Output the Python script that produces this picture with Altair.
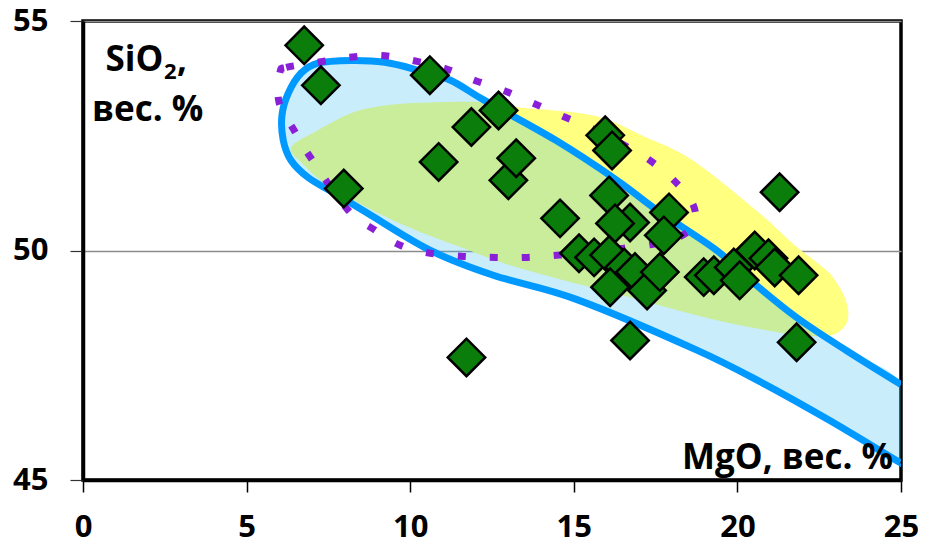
import altair as alt
import pandas as pd

# ---- data ----
mgo = [6.76, 7.27, 7.97, 10.60, 10.87, 11.87, 12.70, 11.72, 13.00, 13.24, 14.58,
       15.96, 16.17, 16.08, 16.72, 16.26, 17.91, 17.75, 15.16, 15.62, 16.08, 16.54,
       16.11, 16.87, 17.24, 17.63, 18.97, 19.28, 19.89, 20.07, 20.53, 20.95, 21.14,
       21.87, 21.29, 21.81, 16.72]
sio2 = [54.47, 53.60, 51.35, 53.82, 51.93, 52.69, 53.05, 47.67, 51.53, 52.01, 50.70,
        52.51, 52.18, 51.20, 50.61, 50.59, 50.83, 50.33, 49.94, 49.85, 49.90, 49.63,
        49.20, 49.53, 49.13, 49.53, 49.42, 49.46, 49.63, 49.35, 50.00, 49.83, 49.63,
        49.46, 51.27, 48.00, 48.04]

# blue field outline (upper branch from right, around the nose, lower branch to right)
blue_x = [25.0, 23.33, 21.81, 20.5, 19.37, 17.54, 16.32, 14.45, 12.27, 11.23, 10.23,
          9.22, 8.19, 7.18, 6.66, 6.27, 6.08, 6.12, 6.36, 6.88, 7.70, 8.70, 10.62,
          12.54, 15.10, 18.76, 20.8, 22.81, 24.85, 25.0]
blue_y = [47.08, 47.82, 48.54, 49.29, 50.0, 50.88, 51.53, 52.4, 53.27, 53.71, 53.93,
          54.10, 54.14, 54.08, 53.86, 53.42, 52.94, 52.40, 51.96, 51.59, 51.24, 50.81,
          50.0, 49.46, 48.93, 47.83, 47.1, 46.3, 45.43, 45.38]

# yellow field (closed)
yellow_x = [6.36, 7.18, 8.19, 9.22, 10.75, 12.27, 13.28, 15.6, 17.1, 18.64, 20.68,
            21.68, 22.72, 23.03, 23.27, 23.39, 23.3, 22.96, 22.41, 21.68, 19.37, 16.32,
            13.28, 11.55, 9.62, 7.58, 6.7]
yellow_y = [52.25, 52.62, 52.99, 53.16, 53.23, 53.23, 53.12, 52.94, 52.5, 51.96, 50.81,
            50.16, 49.57, 49.3, 49.0, 48.65, 48.37, 48.17, 48.13, 48.17, 48.48, 49.05,
            49.63, 50.07, 50.61, 51.37, 51.9]

# dotted violet contour (closed)
dot_x = [6.02, 6.21, 7.18, 8.16, 9.10, 10.08, 11.05, 11.96, 12.85, 13.76, 14.68, 15.56,
         16.42, 17.27, 18.03, 18.64, 18.67, 18.15, 17.45, 16.54, 15.53, 14.56, 13.58,
         12.60, 11.63, 10.62, 9.71, 8.89, 8.10, 6.95, 6.45, 5.99]
dot_y = [53.88, 53.99, 54.10, 54.21, 54.25, 54.14, 53.97, 53.71, 53.49, 53.21, 52.92,
         52.66, 52.34, 51.99, 51.55, 51.01, 50.55, 50.27, 50.14, 50.05, 49.96, 49.90,
         49.85, 49.85, 49.87, 49.94, 50.11, 50.46, 50.88, 52.03, 52.62, 53.23]

x_ticks = [0, 5, 10, 15, 20, 25]
y_ticks = [45, 50, 55]


def path_df(xs, ys):
    return pd.DataFrame({"x": xs, "y": ys, "i": list(range(len(xs)))})


FONT = "Open Sans"
xscale = alt.Scale(domain=[0, 25], nice=False, zero=False)
yscale = alt.Scale(domain=[45, 55], nice=False, zero=False)
xaxis = alt.Axis(values=x_ticks, grid=False, tickSize=12, tickWidth=1.5, tickColor="black",
                 labelPadding=20, labelFlush=False, domainColor="black", domainWidth=3.5)
yaxis = alt.Axis(values=y_ticks, grid=True, gridColor="#8c8c8c", gridWidth=1.5,
                 tickSize=13, tickWidth=1.2, tickColor="#333333", labelPadding=22,
                 labelFlush=False, domainColor="black", domainWidth=3.5)


def enc_xy():
    return dict(
        x=alt.X("x:Q", scale=xscale, axis=xaxis, title=None),
        y=alt.Y("y:Q", scale=yscale, axis=yaxis, title=None),
    )


yellow = alt.Chart(path_df(yellow_x, yellow_y)).mark_line(
    interpolate="cardinal-closed", fill="#ffff80", fillOpacity=1, strokeOpacity=0, clip=True
).encode(order="i:Q", **enc_xy())

blue_fill = alt.Chart(path_df(blue_x, blue_y)).mark_line(
    interpolate="cardinal-closed", fill="#27b7eb", fillOpacity=0.25, strokeOpacity=0, clip=True
).encode(order="i:Q", **enc_xy())

blue_line = alt.Chart(path_df(blue_x, blue_y)).mark_line(
    interpolate="cardinal", color="#0099ff", strokeWidth=7, clip=True
).encode(order="i:Q", **enc_xy())

dotted = alt.Chart(path_df(dot_x, dot_y)).mark_line(
    interpolate="cardinal-closed", color="#8a1fd8", strokeWidth=7, strokeDash=[8, 24],
    strokeCap="butt", clip=True
).encode(order="i:Q", **enc_xy())

points = alt.Chart(pd.DataFrame({"x": mgo, "y": sio2})).mark_point(
    shape="diamond", filled=True, size=1400, fill="#0b7d0b", stroke="black",
    strokeWidth=2.5, opacity=1, fillOpacity=1
).encode(**enc_xy())


def label(txt, x, y, size, align="left"):
    return alt.Chart(pd.DataFrame({"t": [txt]})).mark_text(
        font=FONT, fontWeight="bold", fontSize=size, color="black",
        align=align, baseline="alphabetic"
    ).encode(text="t:N", x=alt.value(x), y=alt.value(y))


labels = (
    label("SiO", 22.5, 49.5, 35)
    + label("2", 81, 57.5, 22)
    + label(",", 94, 49.5, 35)
    + label("вес. %", 9, 99.5, 35)
    + label("MgO, вес. %", 810, 448, 35, align="right")
)

chart = alt.layer(yellow, blue_fill, blue_line, dotted, points, labels).properties(
    width=818, height=459,
    autosize=alt.AutoSizeParams(type="none"),
    padding={"left": 75, "top": 13, "right": 17, "bottom": 64},
).configure_view(
    stroke="black", strokeWidth=3.5
).configure_axis(
    labelFont=FONT, labelFontWeight="bold", labelFontSize=31, labelColor="black"
)

chart.save("out.html", embed_options={"renderer": "svg", "actions": False})
